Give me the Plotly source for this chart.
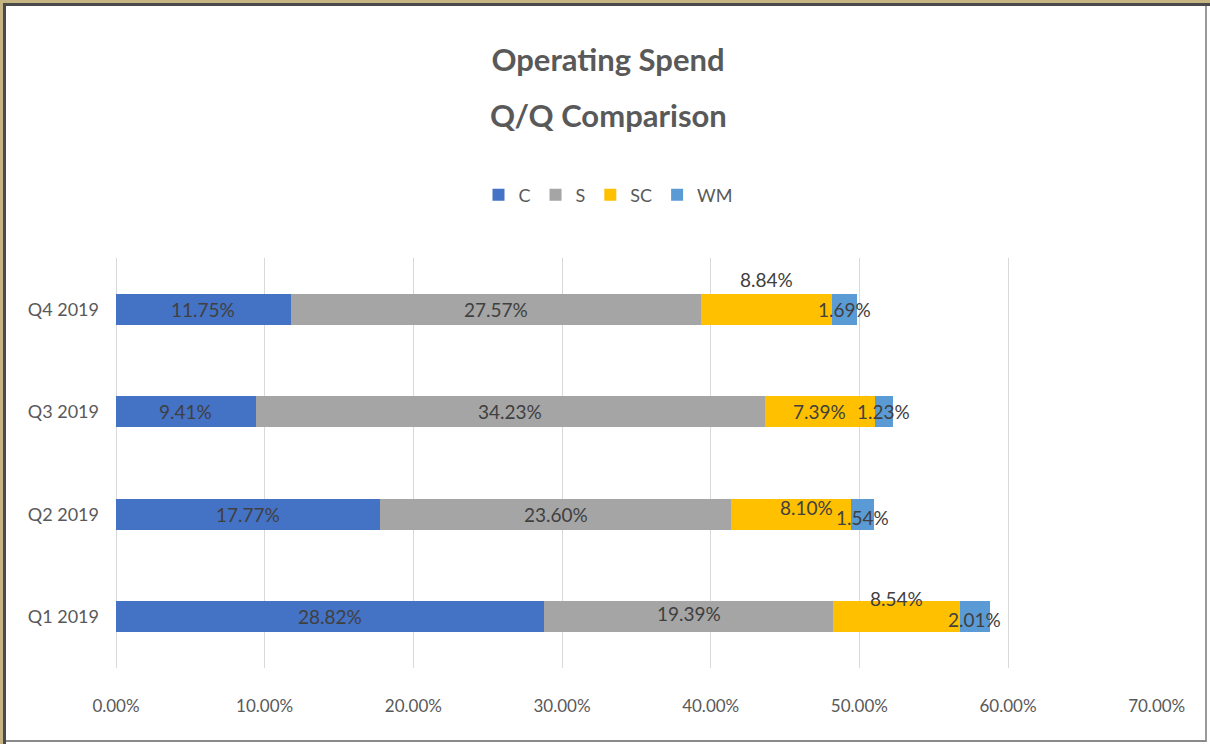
import plotly.graph_objects as go

# ---- data ----
quarters = ["Q1 2019", "Q2 2019", "Q3 2019", "Q4 2019"]
series_names = ["C", "S", "SC", "WM"]
c_vals = [28.82, 17.77, 9.41, 11.75]
s_vals = [19.39, 23.60, 34.23, 27.57]
sc_vals = [8.54, 8.10, 7.39, 8.84]
wm_vals = [2.01, 1.54, 1.23, 1.69]
x_ticks = [0, 10, 20, 30, 40, 50, 60, 70]
x_tick_labels = ["0.00%", "10.00%", "20.00%", "30.00%", "40.00%", "50.00%", "60.00%", "70.00%"]
title_line1 = "Operating Spend"
title_line2 = "Q/Q Comparison"

# ---- style ----
colors = {"C": "#4472C4", "S": "#A5A5A5", "SC": "#FFC000", "WM": "#5B9BD5"}
# vertical/horizontal pixel shifts for a few data labels (as placed in the original)
label_yshift = {("SC", "Q4 2019"): 30, ("SC", "Q1 2019"): 18, ("SC", "Q2 2019"): 7,
                ("S", "Q1 2019"): 3, ("WM", "Q2 2019"): -3, ("WM", "Q1 2019"): -3}
label_xshift = {("SC", "Q2 2019"): 15}

FONT = "Lato, Liberation Sans, sans-serif"
W, H = 1210, 744
ML, MR, MT, MB = 116, 53, 258, 76
PW, PH = W - ML - MR, H - MT - MB


def px2x(px):
    return (px - ML) / PW


def py2y(py):
    return (H - MB - py) / PH


series = {"C": c_vals, "S": s_vals, "SC": sc_vals, "WM": wm_vals}

fig = go.Figure()
for name in series_names:
    fig.add_trace(go.Bar(
        y=quarters, x=series[name], name=name, orientation="h",
        marker=dict(color=colors[name], line=dict(width=0)),
        hoverinfo="x+y+name",
    ))

# data labels centred on each segment
annotations = []
for i, q in enumerate(quarters):
    start = 0.0
    for name in series_names:
        v = series[name][i]
        annotations.append(dict(
            x=start + v / 2, y=q, xref="x", yref="y",
            text=f"{v:.2f}%", showarrow=False,
            font=dict(family=FONT, size=19, color="#404040"),
            yshift=label_yshift.get((name, q), 0),
            xshift=label_xshift.get((name, q), 0),
        ))
        start += v

# second title line (Excel uses wider line spacing than Plotly's <br>)
annotations.append(dict(
    x=px2x(W / 2 + 3), y=py2y(115), xref="paper", yref="paper",
    text=f"<b>{title_line2}</b>", showarrow=False, xanchor="center", yanchor="middle",
    font=dict(family=FONT, size=31, color="#595959"),
))

# frame around the picture
shapes = [
    dict(type="rect", xref="paper", yref="paper", x0=px2x(0), x1=px2x(W), y0=py2y(0), y1=py2y(3),
         fillcolor="#c6b483", line=dict(width=0), layer="below"),
    dict(type="rect", xref="paper", yref="paper", x0=px2x(0), x1=px2x(3), y0=py2y(0), y1=py2y(H),
         fillcolor="#c6b483", line=dict(width=0), layer="below"),
    dict(type="line", xref="paper", yref="paper", x0=px2x(3), x1=px2x(W), y0=py2y(4.5), y1=py2y(4.5),
         line=dict(color="#4a4a4a", width=3), layer="below"),
    dict(type="line", xref="paper", yref="paper", x0=px2x(4.5), x1=px2x(4.5), y0=py2y(3), y1=py2y(H),
         line=dict(color="#4a4a4a", width=3), layer="below"),
    dict(type="line", xref="paper", yref="paper", x0=px2x(1206), x1=px2x(1206), y0=py2y(6), y1=py2y(742),
         line=dict(color="#9a9a9a", width=2), layer="below"),
    dict(type="line", xref="paper", yref="paper", x0=px2x(6), x1=px2x(1206), y0=py2y(741), y1=py2y(741),
         line=dict(color="#8a8a8a", width=2), layer="below"),
]

fig.update_layout(
    width=W, height=H,
    margin=dict(l=ML, r=MR, t=MT, b=MB, pad=0),
    barmode="stack", bargap=0.7,
    paper_bgcolor="white", plot_bgcolor="white",
    font=dict(family=FONT, color="#595959"),
    title=dict(text=f"<b>{title_line1}</b>", x=(W / 2 + 3) / W, xanchor="center",
               y=1 - 60 / H, yanchor="middle",
               font=dict(family=FONT, size=31, color="#595959")),
    legend=dict(orientation="h", x=px2x(608), xanchor="center", y=py2y(195), yanchor="middle",
                font=dict(family=FONT, size=18, color="#595959"),
                itemwidth=30, traceorder="normal"),
    xaxis=dict(range=[0, 70.02], tickvals=x_ticks, ticktext=x_tick_labels,
               showgrid=True, gridcolor="#d9d9d9", gridwidth=1,
               zeroline=True, zerolinecolor="#d9d9d9", zerolinewidth=1,
               showline=False, ticks="", ticklabelstandoff=26,
               tickfont=dict(family=FONT, size=17, color="#595959"), fixedrange=True),
    yaxis=dict(categoryorder="array", categoryarray=quarters, showgrid=False,
               showline=False, ticks="", ticklabelstandoff=16,
               tickfont=dict(family=FONT, size=18, color="#595959"), fixedrange=True),
    annotations=annotations,
    shapes=shapes,
)

fig.write_html("out.html", config={"displayModeBar": False},
               post_script="document.body.style.margin='0';")
